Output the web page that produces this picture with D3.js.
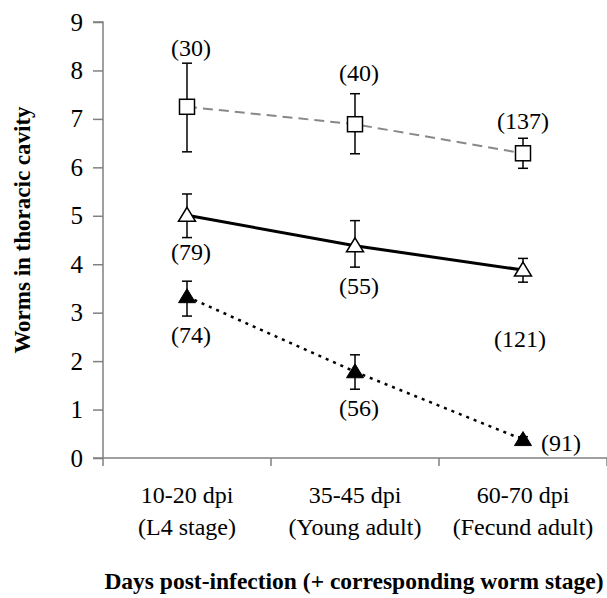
<!DOCTYPE html>
<html>
<head>
<meta charset="utf-8">
<script src="https://cdn.jsdelivr.net/npm/d3@7"></script>
<style>
  body { margin: 0; background: #fff; }
  svg text { font-family: "Liberation Serif", "Times New Roman", Times, serif !important; }
</style>
</head>
<body>
<div id="chart"></div>
<script>
// data
var stages = ["10-20 dpi|(L4 stage)", "35-45 dpi|(Young adult)", "60-70 dpi|(Fecund adult)"];
var yTicks = [0, 1, 2, 3, 4, 5, 6, 7, 8, 9];

var squareMean = [7.25, 6.89, 6.29];
var squareLow  = [6.32, 6.28, 5.98];
var squareHigh = [8.15, 7.52, 6.60];
var squareN    = ["(30)", "(40)", "(137)"];

var openMean = [5.01, 4.38, 3.88];
var openLow  = [4.55, 3.94, 3.63];
var openHigh = [5.45, 4.90, 4.12];
var openN    = ["(79)", "(55)", "(121)"];

var filledMean = [3.33, 1.78, 0.38];
var filledLow  = [2.93, 1.42, 0.32];
var filledHigh = [3.65, 2.13, 0.44];
var filledN    = ["(74)", "(56)", "(91)"];

var serif = "'Liberation Serif', 'Times New Roman', serif";
var W = 607, H = 598;
var margin = {top: 22, left: 103};
var width = W - margin.left,
    height = 458 - margin.top;

var svg = d3.select("#chart").append("svg")
    .attr("width", W)
    .attr("height", H)
    .style("font-family", serif)
  .append("g")
    .attr("transform", "translate(" + margin.left + "," + margin.top + ")");

var x = d3.scaleBand().domain(stages).range([0, 504]).padding(0);
var y = d3.scaleLinear().domain([0, 9]).range([height, 0]);
var cx = function(i) { return x(stages[i]) + x.bandwidth() / 2; };

// y axis
var yAxis = svg.append("g")
  .call(d3.axisLeft(y).tickValues(yTicks).tickSize(10).tickPadding(10).tickFormat(d3.format("d")));
yAxis.attr("font-family", serif);
yAxis.select(".domain").attr("stroke", "#808080").attr("stroke-width", 1.5).attr("d", "M0," + height + "V0H-10");
yAxis.selectAll(".tick line").attr("stroke", "#808080").attr("stroke-width", 1.5);
yAxis.selectAll(".tick text").attr("font-size", 25).attr("fill", "#000");

// x axis
var xAxis = svg.append("g")
  .attr("transform", "translate(0," + height + ")");
xAxis.append("line")
  .attr("x1", -10).attr("x2", width)
  .attr("stroke", "#808080").attr("stroke-width", 1.5);
xAxis.selectAll(".xt")
  .data(stages.concat(["end"]))
  .enter().append("line")
    .attr("x1", function(d, i) { return i * x.bandwidth(); })
    .attr("x2", function(d, i) { return i * x.bandwidth(); })
    .attr("y1", 0).attr("y2", 8)
    .attr("stroke", "#808080").attr("stroke-width", 1.5);
var lab = xAxis.selectAll(".xl")
  .data(stages)
  .enter().append("text")
    .attr("text-anchor", "middle")
    .attr("font-size", 24)
    .attr("fill", "#000");
lab.append("tspan")
  .attr("x", function(d) { return x(d) + x.bandwidth() / 2; })
  .attr("y", 45)
  .text(function(d) { return d.split("|")[0]; });
lab.append("tspan")
  .attr("x", function(d) { return x(d) + x.bandwidth() / 2; })
  .attr("y", 77)
  .text(function(d) { return d.split("|")[1]; });

// axis titles
svg.append("text")
  .attr("x", 251).attr("y", height + 131)
  .attr("text-anchor", "middle")
  .attr("font-size", 23.5).attr("font-weight", "bold")
  .text("Days post-infection (+ corresponding worm stage)");
svg.append("text")
  .attr("transform", "translate(-73," + (230 - margin.top) + ") rotate(-90)")
  .attr("text-anchor", "middle")
  .attr("font-size", 23).attr("font-weight", "bold")
  .text("Worms in thoracic cavity");

var line = d3.line()
  .x(function(d, i) { return cx(i); })
  .y(function(d) { return y(d); });

// connecting lines
svg.append("path").datum(squareMean)
  .attr("d", line).attr("fill", "none")
  .attr("stroke", "#888").attr("stroke-width", 2).attr("stroke-dasharray", "10,6");
svg.append("path").datum(openMean)
  .attr("d", line).attr("fill", "none")
  .attr("stroke", "#000").attr("stroke-width", 3);
svg.append("path").datum(filledMean)
  .attr("d", line).attr("fill", "none")
  .attr("stroke", "#000").attr("stroke-width", 2.5).attr("stroke-dasharray", "3,5");

function errorBars(low, high) {
  var g = svg.append("g").attr("stroke", "#000").attr("stroke-width", 1.5);
  low.forEach(function(lo, i) {
    var hi = high[i], c = cx(i);
    g.append("line").attr("x1", c).attr("x2", c).attr("y1", y(lo)).attr("y2", y(hi));
    g.append("line").attr("x1", c - 5).attr("x2", c + 5).attr("y1", y(lo)).attr("y2", y(lo));
    g.append("line").attr("x1", c - 5).attr("x2", c + 5).attr("y1", y(hi)).attr("y2", y(hi));
  });
}
errorBars(squareLow, squareHigh);
errorBars(openLow, openHigh);
errorBars(filledLow, filledHigh);

var tri = "M0,-8L8.5,6L-8.5,6Z";

svg.selectAll(".sq").data(squareMean).enter().append("rect")
  .attr("x", function(d, i) { return cx(i) - 7.5; })
  .attr("y", function(d) { return y(d) - 7.5; })
  .attr("width", 15).attr("height", 15)
  .attr("fill", "#fff").attr("stroke", "#000").attr("stroke-width", 1.5);
svg.selectAll(".ot").data(openMean).enter().append("path")
  .attr("d", tri)
  .attr("transform", function(d, i) { return "translate(" + cx(i) + "," + y(d) + ")"; })
  .attr("fill", "#fff").attr("stroke", "#000").attr("stroke-width", 1.5);
svg.selectAll(".ft").data(filledMean).enter().append("path")
  .attr("d", tri)
  .attr("transform", function(d, i) { return "translate(" + cx(i) + "," + y(d) + ")"; })
  .attr("fill", "#000").attr("stroke", "#000").attr("stroke-width", 1);

// sample size labels, offsets in pixels from the mean
function nLabels(means, labels, dx, dy, anchor) {
  svg.selectAll(null).data(means).enter().append("text")
    .attr("x", function(d, i) { return cx(i) + dx[i]; })
    .attr("y", function(d, i) { return y(d) + dy[i]; })
    .attr("dy", "0.35em")
    .attr("text-anchor", function(d, i) { return anchor[i]; })
    .attr("font-size", 24)
    .text(function(d, i) { return labels[i]; });
}
nLabels(squareMean, squareN, [4, 4, 0], [-59, -52, -33], ["middle", "middle", "middle"]);
nLabels(openMean, openN, [4, 4, -3], [36, 40, 69], ["middle", "middle", "middle"]);
nLabels(filledMean, filledN, [4, 4, 18], [38, 36, 3], ["middle", "middle", "start"]);
</script>
</body>
</html>
